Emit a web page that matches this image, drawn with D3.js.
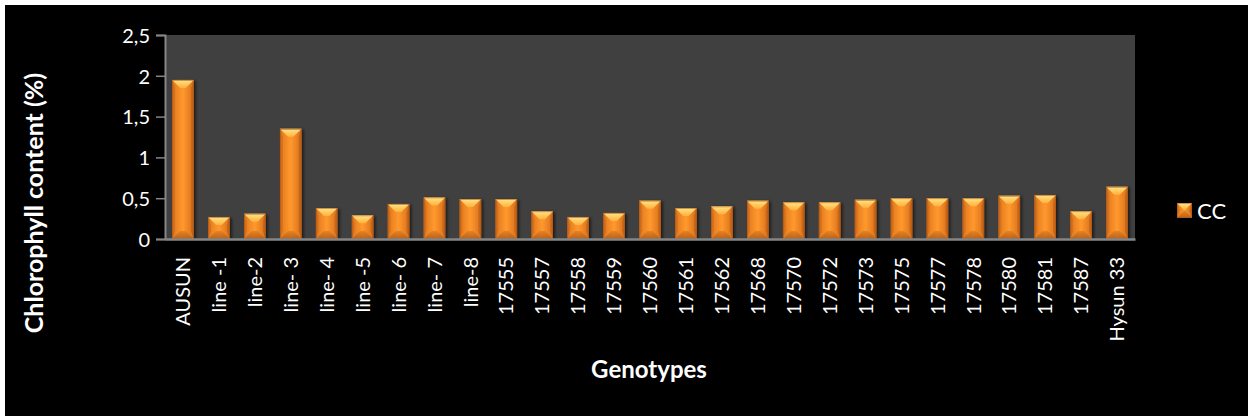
<!DOCTYPE html>
<html><head><meta charset="utf-8">
<script src="https://cdn.jsdelivr.net/npm/d3@7"></script>
<style>
html,body{margin:0;padding:0;background:#fff;}
svg{display:block;}
text{font-family:Lato,"Open Sans",sans-serif;fill:#fff;}
</style></head>
<body>
<svg id="chart" width="1248" height="416"></svg>
<script>
const categories = ["AUSUN","line -1","line-2","line- 3","line- 4","line -5","line- 6","line- 7","line-8",
  "17555","17557","17558","17559","17560","17561","17562","17568","17570","17572","17573","17575",
  "17577","17578","17580","17581","17587","Hysun 33"];
const ccValues = [1.95,0.27,0.31,1.35,0.38,0.29,0.43,0.51,0.49,0.49,0.34,0.27,0.32,0.47,0.38,0.40,0.47,0.45,0.45,0.48,0.50,0.50,0.50,0.53,0.54,0.34,0.64];
const yTicks = [0,0.5,1,1.5,2,2.5];
const seriesName = "CC";
const xTitle = "Genotypes";
const yTitle = "Chlorophyll content (%)";

const svg = d3.select("#chart");
const W = 1248, H = 416;
svg.append("rect").attr("x",5).attr("y",5).attr("width",W-5).attr("height",H-5).attr("fill","#000");

const plot = {left:165, right:1135, top:35, bottom:239};
svg.append("rect").attr("x",plot.left).attr("y",plot.top)
  .attr("width",plot.right-plot.left).attr("height",plot.bottom-plot.top).attr("fill","#404040");

const x = d3.scaleBand().domain(categories).range([plot.left,plot.right]).paddingInner(0.4).paddingOuter(0.2);
const y = d3.scaleLinear().domain([0,2.5]).range([plot.bottom,plot.top]);

const defs = svg.append("defs");
const gMain = defs.append("linearGradient").attr("id","gMain").attr("x1","0").attr("x2","1").attr("y1","0").attr("y2","0");
gMain.append("stop").attr("offset","0").attr("stop-color","#e0771c");
gMain.append("stop").attr("offset","0.5").attr("stop-color","#ff992e");
gMain.append("stop").attr("offset","1").attr("stop-color","#d86f1a");
const gTop = defs.append("linearGradient").attr("id","gTop").attr("x1","0").attr("x2","0").attr("y1","0").attr("y2","1");
gTop.append("stop").attr("offset","0").attr("stop-color","#ffe48a");
gTop.append("stop").attr("offset","1").attr("stop-color","#ffb23a");
const gBot = defs.append("linearGradient").attr("id","gBot").attr("x1","0").attr("x2","0").attr("y1","0").attr("y2","1");
gBot.append("stop").attr("offset","0").attr("stop-color","#e07f24");
gBot.append("stop").attr("offset","1").attr("stop-color","#b25a16");
const shadow = defs.append("filter").attr("id","shadow").attr("x","-20%").attr("y","-20%").attr("width","150%").attr("height","150%");
shadow.append("feDropShadow").attr("dx",2).attr("dy",1).attr("stdDeviation",1.5).attr("flood-color","#000").attr("flood-opacity",0.55);

function drawBar(g, x0, y0, w, h){
  const b = Math.min(8, w/2, h/2);
  const x1 = x0 + w, y1 = y0 + h;
  const grp = g.append("g").attr("filter","url(#shadow)");
  grp.append("rect").attr("x",x0).attr("y",y0).attr("width",w).attr("height",h).attr("fill","url(#gMain)");
  grp.append("polygon").attr("points",[[x0,y0],[x0+b*0.35,y0+b],[x0+b*0.35,y1-b],[x0,y1]].join(" ")).attr("fill","#c9661a").attr("opacity",0.6);
  grp.append("polygon").attr("points",[[x1,y0],[x1-b*0.35,y0+b],[x1-b*0.35,y1-b],[x1,y1]].join(" ")).attr("fill","#b85c17").attr("opacity",0.6);
  grp.append("polygon").attr("points",[[x0,y0],[x1,y0],[x1-b,y0+b],[x0+b,y0+b]].join(" ")).attr("fill","url(#gTop)");
  grp.append("polygon").attr("points",[[x0,y1],[x1,y1],[x1-b,y1-b],[x0+b,y1-b]].join(" ")).attr("fill","url(#gBot)").attr("opacity",0.85);
  grp.append("rect").attr("x",x0+0.5).attr("y",y0+0.5).attr("width",w-1).attr("height",h-1).attr("fill","none").attr("stroke","#a8561a").attr("stroke-width",0.8).attr("opacity",0.7);
}

const barsG = svg.append("g");
categories.forEach((c,i)=>{
  const v = ccValues[i];
  drawBar(barsG, x(c), y(v), x.bandwidth(), y(0)-y(v));
});

const fmt = d => String(d).replace(".", ",");
const yAxis = svg.append("g").attr("transform",`translate(${plot.left},0)`)
  .call(d3.axisLeft(y).tickValues(yTicks).tickFormat(fmt).tickSize(9).tickPadding(6));
yAxis.select(".domain").attr("stroke","#868686").attr("stroke-width",2);
yAxis.selectAll(".tick line").attr("stroke","#868686").attr("stroke-width",1.5);
yAxis.selectAll(".tick text").attr("fill","#fff").style("font-size","20px").attr("dy","0.36em");

const xAxis = svg.append("g").attr("transform",`translate(0,${plot.bottom})`)
  .call(d3.axisBottom(x).tickSize(0).tickPadding(0).tickSizeOuter(0));
xAxis.select(".domain").attr("stroke","#868686").attr("stroke-width",2.5);
xAxis.selectAll(".tick text")
  .attr("fill","#fff").style("font-size","20px")
  .attr("transform","rotate(-90)")
  .attr("text-anchor","end")
  .attr("x",-18).attr("y",0).attr("dy","0.36em");

svg.append("text").attr("transform",`translate(43,203) rotate(-90)`)
  .attr("text-anchor","middle").style("font-size","25px").style("font-weight","bold").text(yTitle);
svg.append("text").attr("x",649).attr("y",378)
  .attr("text-anchor","middle").style("font-size","24px").style("font-weight","bold").text(xTitle);

const lg = svg.append("g");
drawBar(lg, 1177, 203, 15, 15);
lg.append("text").attr("x",1197).attr("y",219).style("font-size","22px").text(seriesName);
</script>
</body></html>
